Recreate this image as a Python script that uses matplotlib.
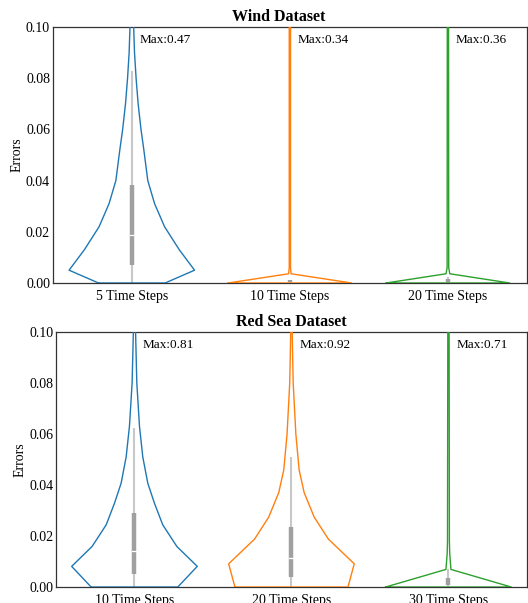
import numpy as np
import matplotlib.pyplot as plt

plt.rcParams['font.family'] = ['Liberation Serif', 'DejaVu Serif']

colors = ['#1f77b4', '#ff7f0e', '#2ca02c']

# ---- Wind dataset ----
wind_labels = ['5 Time Steps', '10 Time Steps', '20 Time Steps']
wind_max = [0.47, 0.34, 0.36]
# violin outlines (error level, half width)
wind_prof_y = [
    [0, 0.005, 0.013, 0.022, 0.031, 0.040, 0.052, 0.060, 0.070, 0.080, 0.090, 0.105],
    [0, 0.0036, 0.006, 0.105],
    [0, 0.0036, 0.006, 0.105],
]
wind_prof_w = [
    [0.211, 0.397, 0.30, 0.207, 0.144, 0.101, 0.076, 0.058, 0.040, 0.027, 0.017, 0.009],
    [0.39, 0.008, 0.004, 0.004],
    [0.39, 0.012, 0.005, 0.004],
]
wind_whis = [0.083, 0.0012, 0.0022]
wind_q1 = [0.0071, 0.0002, 0.0005]
wind_q3 = [0.0384, 0.0010, 0.0015]
wind_med = [0.0189, 0.0006, 0.0010]

# ---- Red Sea dataset ----
sea_labels = ['10 Time Steps', '20 Time Steps', '30 Time Steps']
sea_max = [0.81, 0.92, 0.71]
sea_prof_y = [
    [0, 0.0081, 0.0159, 0.0244, 0.0329, 0.0407, 0.051, 0.063, 0.080, 0.105],
    [0, 0.0091, 0.0188, 0.0274, 0.037, 0.0459, 0.060, 0.080, 0.105],
    [0, 0.0069, 0.0132, 0.018, 0.105],
]
sea_prof_w = [
    [0.276, 0.40, 0.27, 0.18, 0.127, 0.085, 0.053, 0.032, 0.015, 0.005],
    [0.36, 0.40, 0.235, 0.145, 0.081, 0.049, 0.028, 0.011, 0.003],
    [0.40, 0.016, 0.008, 0.006, 0.004],
]
sea_whis = [0.0625, 0.051, 0.0069]
sea_q1 = [0.0052, 0.0039, 0.0008]
sea_q3 = [0.029, 0.0237, 0.0034]
sea_med = [0.0142, 0.0113, 0.0020]


def draw_panel(ax, title, title_x, labels, vmax, prof_y, prof_w, whis, q1, q3, med):
    for i in range(len(labels)):
        y = np.array(prof_y[i])
        w = np.array(prof_w[i])
        xs = np.concatenate([i - w, (i + w)[::-1], [i - w[0]]])
        ys = np.concatenate([y, y[::-1], [y[0]]])
        ax.plot(xs, ys, color=colors[i], lw=1.0, zorder=3)
        # box plot inside
        ax.plot([i, i], [0, whis[i]], color='#c8c8c8', lw=1.5, zorder=2,
                solid_capstyle='butt')
        ax.plot([i, i], [q1[i], q3[i]], color='#a0a0a0', lw=3.2, zorder=2,
                solid_capstyle='butt')
        if q3[i] - q1[i] > 0.005:
            ax.plot([i - 0.013, i + 0.013], [med[i], med[i]], color='white',
                    lw=0.9, zorder=2.5)
        ax.text(i + 0.05, 0.0948, 'Max:%.2f' % vmax[i], fontsize=9.5,
                ha='left', va='center', zorder=4)
    ax.set_xlim(-0.5, 2.5)
    ax.set_ylim(0, 0.1)
    ax.set_xticks(range(len(labels)))
    ax.set_xticklabels(labels, fontsize=10)
    ax.set_yticks([0, 0.02, 0.04, 0.06, 0.08, 0.10])
    ax.set_yticklabels(['0.00', '0.02', '0.04', '0.06', '0.08', '0.10'], fontsize=10)
    ax.tick_params(length=0)
    ax.tick_params(axis='y', pad=2)
    ax.tick_params(axis='x', pad=5)
    ax.set_ylabel('Errors', fontsize=10, labelpad=2)
    ax.set_title(title, fontsize=11.5, fontweight='bold', pad=4, x=title_x)
    for s in ax.spines.values():
        s.set_color('#333333')
        s.set_linewidth(0.9)


fig = plt.figure(figsize=(5.28, 6.03), dpi=100)
ax1 = fig.add_axes([0.100, 0.5307, 0.898, 0.4245])
ax2 = fig.add_axes([0.106, 0.0265, 0.892, 0.4229])

draw_panel(ax1, 'Wind Dataset', 0.476, wind_labels, wind_max, wind_prof_y,
           wind_prof_w, wind_whis, wind_q1, wind_q3, wind_med)
draw_panel(ax2, 'Red Sea Dataset', 0.5, sea_labels, sea_max, sea_prof_y,
           sea_prof_w, sea_whis, sea_q1, sea_q3, sea_med)

fig.savefig('out.png', dpi=100)
